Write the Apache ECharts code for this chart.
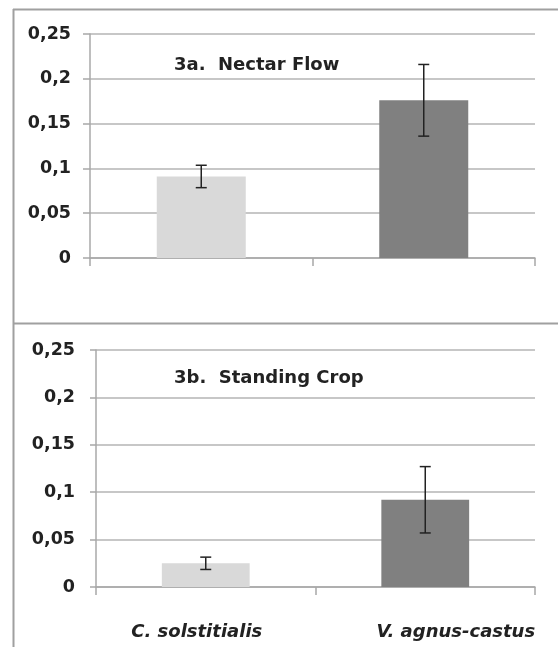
<!DOCTYPE html>
<html>
<head>
<meta charset="utf-8">
<script src="https://cdn.jsdelivr.net/npm/echarts@6/dist/echarts.min.js"></script>
<style>
html,body{margin:0;padding:0;background:#fff;}
#chart{width:558px;height:647px;}
</style>
</head>
<body>
<div id="chart"></div>
<script>
// Data
var categories = ['C. solstitialis', 'V. agnus-castus'];
var nectarFlow = [0.091, 0.176];
var nectarFlowErr = [0.0125, 0.040];
var standingCrop = [0.025, 0.092];
var standingCropErr = [0.0065, 0.035];
var barColors = ['#d9d9d9', '#808080'];
var yTicks = [0, 0.05, 0.1, 0.15, 0.2, 0.25];
var titles = ['3a.  Nectar Flow', '3b.  Standing Crop'];

var chart = echarts.init(document.getElementById('chart'), null, {renderer: 'canvas'});

var FONT = 'DejaVu Sans';
function yAxis(idx, margin, tickLen) {
  return {
    type: 'value', gridIndex: idx, min: yTicks[0], max: yTicks[yTicks.length - 1], interval: 0.05,
    axisLine: {show: true, lineStyle: {color: '#a8a8a8', width: 1.5}},
    axisTick: {show: true, length: tickLen, lineStyle: {color: '#a8a8a8', width: 1.5}},
    splitLine: {show: true, lineStyle: {color: '#b4b4b4', width: 1.5}},
    axisLabel: {
      margin: margin, color: '#222', fontFamily: FONT, fontWeight: 'bold', fontSize: 17.5,
      formatter: function (v) { return String(+v.toFixed(2)).replace('.', ','); }
    }
  };
}
function xAxis(idx, showLabels) {
  return {
    type: 'category', gridIndex: idx, data: categories, boundaryGap: true,
    axisLine: {show: true, lineStyle: {color: '#a8a8a8', width: 1.5}},
    axisTick: {show: true, length: 8, alignWithLabel: false, lineStyle: {color: '#a8a8a8', width: 1.5}},
    axisLabel: {
      show: showLabels, margin: 36, interval: 0,
      formatter: function (v, i) { return i === 0 ? '{a|' + v + '}' : '{b|' + v + '}'; },
      rich: {
        a: {fontFamily: FONT, fontWeight: 'bold', fontStyle: 'italic', fontSize: 18, color: '#222', padding: [0, 18, 0, 0]},
        b: {fontFamily: FONT, fontWeight: 'bold', fontStyle: 'italic', fontSize: 18, color: '#222', padding: [0, 0, 0, 61]}
      }
    }
  };
}
function barSeries(idx, vals) {
  return {
    type: 'bar', xAxisIndex: idx, yAxisIndex: idx, barWidth: '40%',
    data: vals.map(function (v, i) { return {value: v, itemStyle: {color: barColors[i]}}; }),
    z: 2
  };
}
function errSeries(idx, vals, errs) {
  return {
    type: 'custom', xAxisIndex: idx, yAxisIndex: idx, z: 5,
    data: vals.map(function (v, i) { return [i, v - errs[i], v + errs[i]]; }),
    renderItem: function (params, api) {
      var lo = api.coord([api.value(0), api.value(1)]);
      var hi = api.coord([api.value(0), api.value(2)]);
      var hw = 5.5;
      var st = {stroke: '#222', lineWidth: 1.5};
      return {type: 'group', children: [
        {type: 'line', shape: {x1: hi[0], y1: hi[1], x2: lo[0], y2: lo[1]}, style: st},
        {type: 'line', shape: {x1: hi[0] - hw, y1: hi[1], x2: hi[0] + hw, y2: hi[1]}, style: st},
        {type: 'line', shape: {x1: lo[0] - hw, y1: lo[1], x2: lo[0] + hw, y2: lo[1]}, style: st}
      ]};
    }
  };
}

var titleStyle = {fontFamily: FONT, fontWeight: 'bold', fontSize: 18, color: '#222'};
var option = {
  backgroundColor: '#fff',
  animation: false,
  title: [
    {text: titles[0], left: 174, top: 56.5, padding: 0, textStyle: titleStyle},
    {text: titles[1], left: 174, top: 369.5, padding: 0, textStyle: titleStyle}
  ],
  grid: [
    {left: 90, right: 23, top: 34, height: 224},
    {left: 96, right: 23, top: 350, height: 237}
  ],
  xAxis: [xAxis(0, false), xAxis(1, true)],
  yAxis: [yAxis(0, 19, 7), yAxis(1, 21, 6)],
  series: [
    barSeries(0, nectarFlow), errSeries(0, nectarFlow, nectarFlowErr),
    barSeries(1, standingCrop), errSeries(1, standingCrop, standingCropErr)
  ],
  graphic: [
    {type: 'line', shape: {x1: 13.5, y1: 9, x2: 13.5, y2: 647}, style: {stroke: '#a0a0a0', lineWidth: 2}},
    {type: 'line', shape: {x1: 13, y1: 9.5, x2: 558, y2: 9.5}, style: {stroke: '#a0a0a0', lineWidth: 2}},
    {type: 'line', shape: {x1: 13, y1: 323.5, x2: 558, y2: 323.5}, style: {stroke: '#a0a0a0', lineWidth: 2}}
  ]
};
chart.setOption(option);
</script>
</body>
</html>
